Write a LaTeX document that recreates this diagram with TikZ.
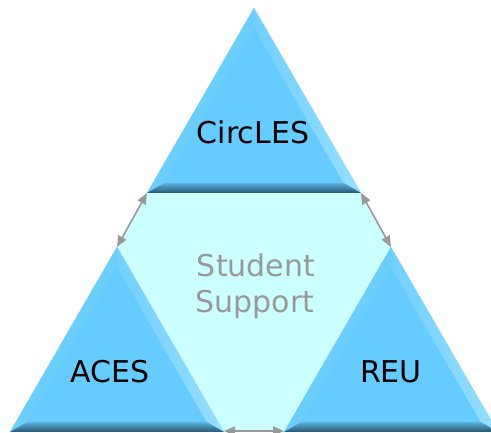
\documentclass[tikz,border=0pt]{standalone}
\usepackage{fontspec}
\setmainfont{DejaVu Sans}
\usetikzlibrary{arrows.meta}
\definecolor{tri}{HTML}{66CCFF}
\definecolor{triL}{HTML}{6BCEFC}
\definecolor{triRa}{HTML}{72D0FF}
\definecolor{triRb}{HTML}{96DEFF}
\definecolor{botT}{HTML}{5AB2E0}
\definecolor{botB}{HTML}{275670}
\definecolor{core}{HTML}{CCFFFF}
\definecolor{lgray}{HTML}{999999}
\tikzset{
  label/.style={font=\fontsize{30}{34}\selectfont, text=black, inner sep=0pt, anchor=base},
  softlabel/.style={label, text=lgray},
  link/.style={draw=lgray, line width=1.6pt, {Triangle[length=11pt,width=9pt]}-{Triangle[length=11pt,width=9pt]}},
  pics/bevtri/.style={code={
    \coordinate (-a) at (0,0);
    \coordinate (-b) at (-107,185);
    \coordinate (-c) at (107,185);
    \coordinate (-ai) at (0,20);
    \coordinate (-bi) at (-89.7,175);
    \coordinate (-ci) at (89.7,175);
    \fill[tri] (-a) -- (-b) -- (-c) -- cycle;
    \fill[triL] (-a) -- (-b) -- (-bi) -- (-ai) -- cycle;
    \shade[left color=triRa, right color=triRb] (-a) -- (-ai) -- (-ci) -- (-c) -- cycle;
    \shade[top color=botT, bottom color=botB] (-b) -- (-c) -- (-ci) -- (-bi) -- cycle;
  }}
}
\begin{document}
\begin{tikzpicture}[x=1pt,y=-1pt]
\useasboundingbox (0,0) rectangle (491,433);
\clip (0,0) rectangle (491,433);
% central region
\fill[core] (147,193) -- (361,193) -- (391,247) -- (284,432) -- (224,432) -- (117,247) -- cycle;
% triangles
\pic (T) at (254,8) {bevtri};
\pic (L) at (117,247) {bevtri};
\pic (R) at (391,247) {bevtri};
% labels
\node[label] (circles) at (253,144) {CircLES};
\node[label] (aces) at (110,383) {ACES};
\node[label] (reu) at (391,383) {REU};
\node[softlabel] (student) at (256,277) {Student};
\node[softlabel] (support) at (255,313) {Support};
% connectors
\coordinate (bl) at (224,431);
\coordinate (br) at (284,431);
\draw[link] (T-b) -- (L-a);
\draw[link] (T-c) -- (R-a);
\draw[link] (bl) -- (br);
\end{tikzpicture}
\end{document}
